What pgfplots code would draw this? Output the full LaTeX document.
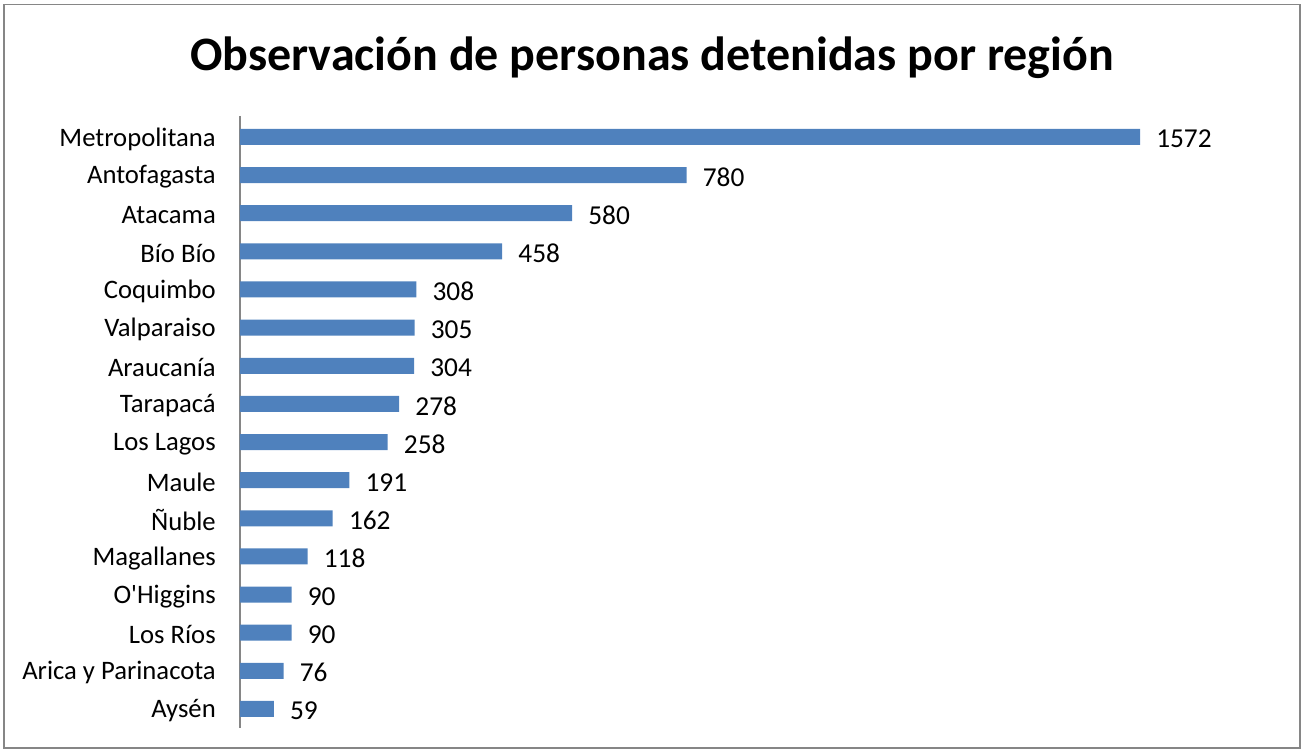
\documentclass[border=0pt]{standalone}
\usepackage{pgfplots}
\pgfplotsset{compat=1.18}
\usepackage{fontspec}
\setmainfont{Carlito}
\definecolor{barblue}{HTML}{4F81BD}
\definecolor{framegray}{HTML}{868686}
\begin{document}
\begin{tikzpicture}
\useasboundingbox (0,0) rectangle (978pt,562.5pt);
\draw[framegray, line width=1.2pt] (3pt,1.5pt) rectangle (975pt,559pt);
\node[font=\bfseries\fontsize{36}{42}\selectfont] at (489pt,519pt) {Observación de personas detenidas por región};
\begin{axis}[
  at={(180pt,16.5pt)}, anchor=south west,
  scale only axis, width=675pt, height=459pt,
  xmin=0, xmax=1572, ymin=-0.55, ymax=15.5,
  y dir=reverse, clip=false,
  xbar, bar width=12pt,
  axis x line=none,
  axis y line*=left,
  y axis line style={framegray, line width=1pt},
  major tick length=0pt,
  ytick={0,...,15},
  yticklabels={Metropolitana,Antofagasta,Atacama,Bío Bío,Coquimbo,Valparaiso,Araucanía,Tarapacá,Los Lagos,Maule,Ñuble,Magallanes,O\textquotesingle Higgins,Los Ríos,Arica y Parinacota,Aysén},
  yticklabel style={font=\fontsize{20}{22}\selectfont, inner sep=0pt, anchor=east, xshift=-18pt, yshift=-1.5pt},
  nodes near coords,
  /pgf/number format/.cd, 1000 sep={}, assume math mode=true, /pgfplots/.cd,
  every node near coord/.append style={font=\fontsize{20.5}{22}\selectfont, inner sep=0pt, anchor=west, xshift=12pt, yshift=-1.5pt},
]
\addplot[fill=barblue, draw=none] coordinates {
(1572,0) (780,1) (580,2) (458,3) (308,4) (305,5) (304,6) (278,7) (258,8) (191,9) (162,10) (118,11) (90,12) (90,13) (76,14) (59,15)};
\end{axis}
\end{tikzpicture}
\end{document}
